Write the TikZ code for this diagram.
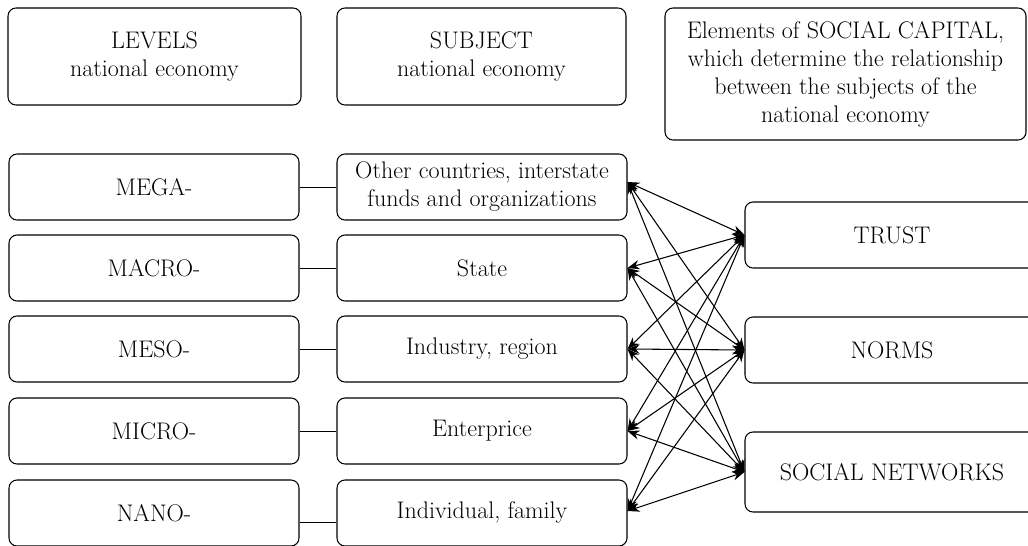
\documentclass[tikz,border=0pt]{standalone}
\usetikzlibrary{arrows.meta,calc}
\begin{document}
\begin{tikzpicture}[x=0.75pt,y=-0.75pt,
  box/.style={draw, rounded corners=6pt, line width=0.8pt, align=center, inner sep=2pt, font=\fontsize{18}{21}\selectfont},
  lc/.style={box, minimum width=217.5pt, minimum height=49.5pt},
  rc/.style={box, minimum width=220.5pt, minimum height=49.5pt},
  link/.style={line width=0.7pt},
  rel/.style={line width=0.8pt, {Stealth[length=9pt,width=7pt]}-{Stealth[length=9pt,width=7pt]}}]
\useasboundingbox (0,0) rectangle (1028,546);
% header boxes
\node[box, minimum width=219.75pt, minimum height=72.75pt] (hlev) at (154.5,56.5) {LEVELS\\national economy};
\node[box, minimum width=216.75pt, minimum height=72.75pt] (hsub) at (481.5,56.5) {SUBJECT\\national economy};
\node[box, minimum width=270.75pt, minimum height=99pt] (hel) at (845.5,74) {Elements of SOCIAL CAPITAL,\\which determine the relationship\\between the subjects of the\\national economy};
% levels
\node[lc] (mega) at (154,187) {MEGA-};
\node[lc] (macro) at (154,268) {MACRO-};
\node[lc] (meso) at (154,349) {MESO-};
\node[lc] (micro) at (154,431) {MICRO-};
\node[lc] (nano) at (154,513) {NANO-};
% subjects
\node[lc] (oth) at (482,187) {Other countries, interstate\\funds and organizations};
\node[lc] (sta) at (482,268) {State};
\node[lc] (ind) at (482,349) {Industry, region};
\node[lc] (ent) at (482,431) {Enterprice};
\node[lc] (fam) at (482,513) {Individual, family};
% elements
\node[rc] (tru) at (892,235) {TRUST};
\node[rc] (nor) at (892,350) {NORMS};
\node[rc, minimum height=60pt] (soc) at (892,472) {SOCIAL NETWORKS};
% links level-subject
\draw[link] (mega) -- (oth);
\draw[link] (macro) -- (sta);
\draw[link] (meso) -- (ind);
\draw[link] (micro) -- (ent);
\draw[link] ($(nano.east)+(0,9)$) coordinate (n1) -- (n1 -| fam.west);
% relations
\coordinate (o) at ($(oth.east)+(0,-5)$);
\coordinate (f) at ($(fam.east)+(0,-2)$);
\foreach \s in {o,sta.east,ind.east,ent.east,f}{
  \foreach \t in {tru.west,nor.west,soc.west}{
    \draw[rel] (\s) -- (\t);
  }
}
\end{tikzpicture}
\end{document}
